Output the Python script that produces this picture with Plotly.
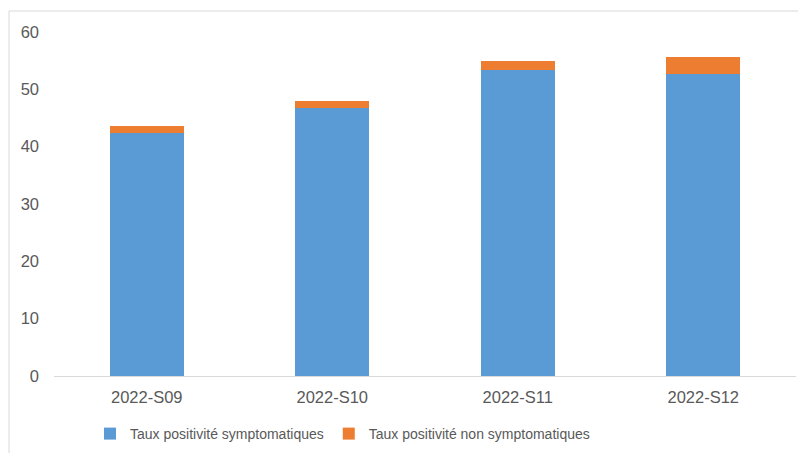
import plotly.graph_objects as go

semaines = ["2022-S09", "2022-S10", "2022-S11", "2022-S12"]
symptomatiques = [42.3, 46.7, 53.4, 52.6]
non_symptomatiques = [1.3, 1.3, 1.5, 3.1]

BLUE = "#5B9BD5"
ORANGE = "#ED7D31"
GREY_TXT = "#595959"

fig = go.Figure()
fig.add_trace(go.Bar(
    x=semaines, y=symptomatiques, name="Taux positivité symptomatiques",
    marker=dict(color=BLUE, line=dict(width=0)), width=0.4,
))
fig.add_trace(go.Bar(
    x=semaines, y=non_symptomatiques, name="Taux positivité non symptomatiques",
    marker=dict(color=ORANGE, line=dict(width=0)), width=0.4,
))

# la page ajoute 8px de marge (body) : figure 798x445, coordonnées décalées de 8px
W, H = 798, 445
L, R, T, B = 46, 788, 24, 368
def px_x(p):
    return (p - L) / (R - L)
def px_y(p):
    return (B - p) / (B - T)

fig.update_layout(
    barmode="stack",
    width=W, height=H,
    margin=dict(l=L, r=W - R, t=T, b=H - B, autoexpand=False),
    plot_bgcolor="white", paper_bgcolor="white",
    font=dict(family="Liberation Sans, Arial, sans-serif", size=16, color=GREY_TXT),
    xaxis=dict(showline=True, linecolor="#D9D9D9", linewidth=1, ticks="",
               showgrid=False, automargin=False, ticklabelstandoff=6,
               tickfont=dict(size=16.5, color=GREY_TXT)),
    yaxis=dict(range=[0, 60], dtick=10, showgrid=False, zeroline=False,
               showline=False, ticks="", ticklabelstandoff=14, automargin=False,
               tickfont=dict(size=16.5, color=GREY_TXT)),
    legend=dict(orientation="h", x=px_x(82), xanchor="left", y=px_y(426), yanchor="middle",
                font=dict(size=14, color=GREY_TXT), traceorder="normal"),
    shapes=[dict(type="rect", xref="paper", yref="paper",
                 x0=px_x(1), x1=px_x(W + 5), y0=px_y(H + 5), y1=px_y(3),
                 line=dict(color="#D9D9D9", width=1), fillcolor="rgba(0,0,0,0)",
                 layer="below")],
)

fig.write_html("out.html")
